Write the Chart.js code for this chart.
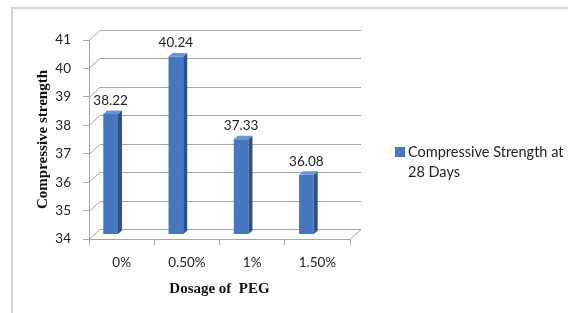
<!DOCTYPE html>
<html><head><meta charset="utf-8">
<script src="https://cdn.jsdelivr.net/npm/chart.js@4/dist/chart.umd.min.js"></script>
<style>html,body{margin:0;padding:0;background:#fff;overflow:hidden}</style>
</head><body>
<canvas id="c" width="568" height="313"></canvas>
<script>
// ---- data ----
const categories = ['0%', '0.50%', '1%', '1.50%'];
const strength28 = [38.22, 40.24, 37.33, 36.08];
const seriesName = 'Compressive Strength at 28 Days';
const yMin = 34, yMax = 41, yStep = 1;
const xTitle = 'Dosage of  PEG';
const yTitle = 'Compressive strength';

// ---- styling ----
const WALL_DX = 11, WALL_DY = -10;   // depth of the 3D box
const BAR_SX = -11, BAR_SY = -5;     // bar placement inside the box
const BAR_DX = 4, BAR_DY = -3.5;     // bar depth
const FRONT = '#4677BE', SIDE = '#2C5189', TOP = '#6A97D4';
const GRID = '#a6a6a6';
const UI_FONT = 'Lato, "Liberation Sans", sans-serif';
const SERIF = '"Liberation Serif", "Times New Roman", serif';

const box3d = {
  id: 'box3d',
  beforeDraw(chart) {
    const ctx = chart.ctx;
    ctx.save();
    ctx.fillStyle = '#fff';
    ctx.fillRect(0, 0, chart.width, chart.height);
    ctx.strokeStyle = '#d4d4d4';
    ctx.lineWidth = 2;
    ctx.beginPath();
    ctx.moveTo(12, chart.height + 2);
    ctx.lineTo(12, 8);
    ctx.lineTo(chart.width + 2, 8);
    ctx.stroke();
    ctx.restore();
  },
  beforeDatasetsDraw(chart) {
    const ctx = chart.ctx, y = chart.scales.y, x = chart.scales.x;
    const L = x.left, R = x.right;
    ctx.save();
    ctx.strokeStyle = GRID;
    ctx.lineWidth = 1;
    y.ticks.forEach(t => {
      const py = Math.round(y.getPixelForValue(t.value)) + 0.5;
      ctx.beginPath();
      ctx.moveTo(L, py);
      ctx.lineTo(L + WALL_DX, py + WALL_DY);
      ctx.lineTo(R + WALL_DX, py + WALL_DY);
      ctx.stroke();
    });
    const pb = Math.round(y.getPixelForValue(yMin)) + 0.5;
    ctx.beginPath();
    ctx.moveTo(R, pb);
    ctx.lineTo(R + WALL_DX, pb + WALL_DY);
    ctx.stroke();
    ctx.restore();
    ctx.save();
    ctx.translate(BAR_SX, BAR_SY);
  },
  afterDatasetsDraw(chart) {
    const ctx = chart.ctx;
    ctx.restore();
    const meta = chart.getDatasetMeta(0);
    const ys = chart.scales.y;
    const vals = chart.data.datasets[0].data;
    ctx.save();
    meta.data.forEach((bar, i) => {
      const w = bar.width;
      const l = bar.x - w / 2 + BAR_SX, r = bar.x + w / 2 + BAR_SX;
      const t = ys.getPixelForValue(vals[i]) + BAR_SY;
      const b = ys.getPixelForValue(yMin) + BAR_SY;
      ctx.fillStyle = SIDE;
      ctx.beginPath();
      ctx.moveTo(r, t); ctx.lineTo(r + BAR_DX, t + BAR_DY);
      ctx.lineTo(r + BAR_DX, b + BAR_DY); ctx.lineTo(r, b); ctx.closePath();
      ctx.fill();
      ctx.fillStyle = TOP;
      ctx.beginPath();
      ctx.moveTo(l, t); ctx.lineTo(l + BAR_DX, t + BAR_DY);
      ctx.lineTo(r + BAR_DX, t + BAR_DY); ctx.lineTo(r, t); ctx.closePath();
      ctx.fill();
      ctx.fillStyle = '#222';
      ctx.font = '13.5px ' + UI_FONT;
      ctx.textAlign = 'center';
      ctx.textBaseline = 'middle';
      ctx.fillText(vals[i].toFixed(2), (l + r) / 2, t - 13.5);
    });
    ctx.restore();
  },
  afterDraw(chart) {
    const ctx = chart.ctx;
    const ds = chart.data.datasets[0];
    ctx.save();
    ctx.fillStyle = FRONT;
    ctx.fillRect(395, 147, 10, 10);
    ctx.fillStyle = '#222';
    ctx.font = '14.5px ' + UI_FONT;
    ctx.textAlign = 'left';
    ctx.textBaseline = 'middle';
    const words = ds.label.split(' ');
    const lines = []; let cur = '';
    words.forEach(w => {
      const test = cur ? cur + ' ' + w : w;
      if (ctx.measureText(test).width > 160 && cur) { lines.push(cur); cur = w; } else cur = test;
    });
    lines.push(cur);
    lines.forEach((ln, k) => ctx.fillText(ln, 408, 152 + k * 20));
    ctx.restore();
  }
};

new Chart(document.getElementById('c'), {
  type: 'bar',
  data: {
    labels: categories,
    datasets: [{
      label: seriesName,
      data: strength28,
      backgroundColor: FRONT,
      borderWidth: 0,
      categoryPercentage: 1,
      barPercentage: 0.225
    }]
  },
  plugins: [box3d],
  options: {
    responsive: false,
    animation: false,
    devicePixelRatio: 1,
    layout: { padding: { left: 0, top: 40, right: 218, bottom: 0 } },
    plugins: { legend: { display: false }, tooltip: { enabled: false } },
    scales: {
      y: {
        min: yMin, max: yMax,
        ticks: { stepSize: yStep, color: '#222', font: { size: 13.5, family: UI_FONT }, padding: 12 },
        grid: { drawOnChartArea: false, drawTicks: true, tickLength: 6, tickColor: GRID },
        border: { display: true, color: GRID },
        title: { display: true, text: yTitle, color: '#111',
          font: { family: SERIF, size: 15, weight: 'bold' },
          padding: { top: 34, bottom: 0 } },
        afterFit(s) { s.width = 89; }
      },
      x: {
        ticks: { color: '#222', font: { size: 13.5, family: UI_FONT }, padding: 10 },
        grid: { drawOnChartArea: false, drawTicks: true, tickLength: 6, tickColor: GRID, offset: true },
        border: { display: true, color: GRID },
        title: { display: true, text: xTitle, color: '#111',
          font: { family: SERIF, size: 15, weight: 'bold' },
          padding: { top: 0, bottom: 15 } },
        afterFit(s) { s.height = 74; }
      }
    }
  }
});
</script>
</body></html>
